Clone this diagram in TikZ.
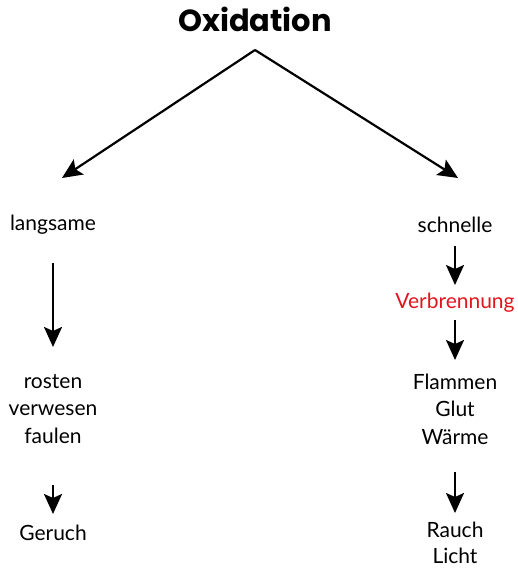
\documentclass[tikz,border=0pt]{standalone}
\usepackage{fontspec}
\setmainfont{Lato}
\newfontfamily\titlefont{Poppins}
\usetikzlibrary{arrows.meta}
\definecolor{vred}{RGB}{226,20,30}
\tikzset{
  lbl/.style={font=\fontsize{21}{27.5}\selectfont, align=center, inner sep=0pt},
  arr/.style={line width=2.2pt, -{Stealth[length=20pt,width=18pt,inset=4pt]}},
}
\begin{document}
\begin{tikzpicture}[x=1pt,y=-1pt]
\useasboundingbox (0,0) rectangle (517,569);
\node[font=\titlefont\fontsize{30.5}{32}\bfseries\selectfont, inner sep=0pt] (title) at (255,19) {Oxidation};
\coordinate (apex) at (255,50);
\coordinate (la) at (62,178);
\coordinate (ra) at (458,178);
\draw[arr] (apex) -- (la);
\draw[arr] (apex) -- (ra);
\node[lbl] (lang) at (53,225) {langsame};
\node[lbl] (schn) at (455,225) {schnelle};
\node[lbl] (rost) at (53,409) {rosten\\verwesen\\faulen};
\node[lbl] (geru) at (53,533) {Geruch};
\node[lbl, text=vred] (verb) at (455,303) {Verbrennung};
\node[lbl] (flam) at (455,409) {Flammen\\Glut\\Wärme};
\node[lbl, font=\fontsize{21}{26.5}\selectfont] (rauc) at (455,543) {Rauch\\Licht};
\coordinate (l1s) at (53,263); \coordinate (l1e) at (53,347);
\coordinate (l2s) at (53,485); \coordinate (l2e) at (53,514);
\coordinate (r1s) at (455,246); \coordinate (r1e) at (455,285);
\coordinate (r2s) at (455,320); \coordinate (r2e) at (455,360);
\coordinate (r3s) at (455,472); \coordinate (r3e) at (455,513);
\draw[arr] (l1s) -- (l1e);
\draw[arr] (l2s) -- (l2e);
\draw[arr] (r1s) -- (r1e);
\draw[arr] (r2s) -- (r2e);
\draw[arr] (r3s) -- (r3e);
\end{tikzpicture}
\end{document}
